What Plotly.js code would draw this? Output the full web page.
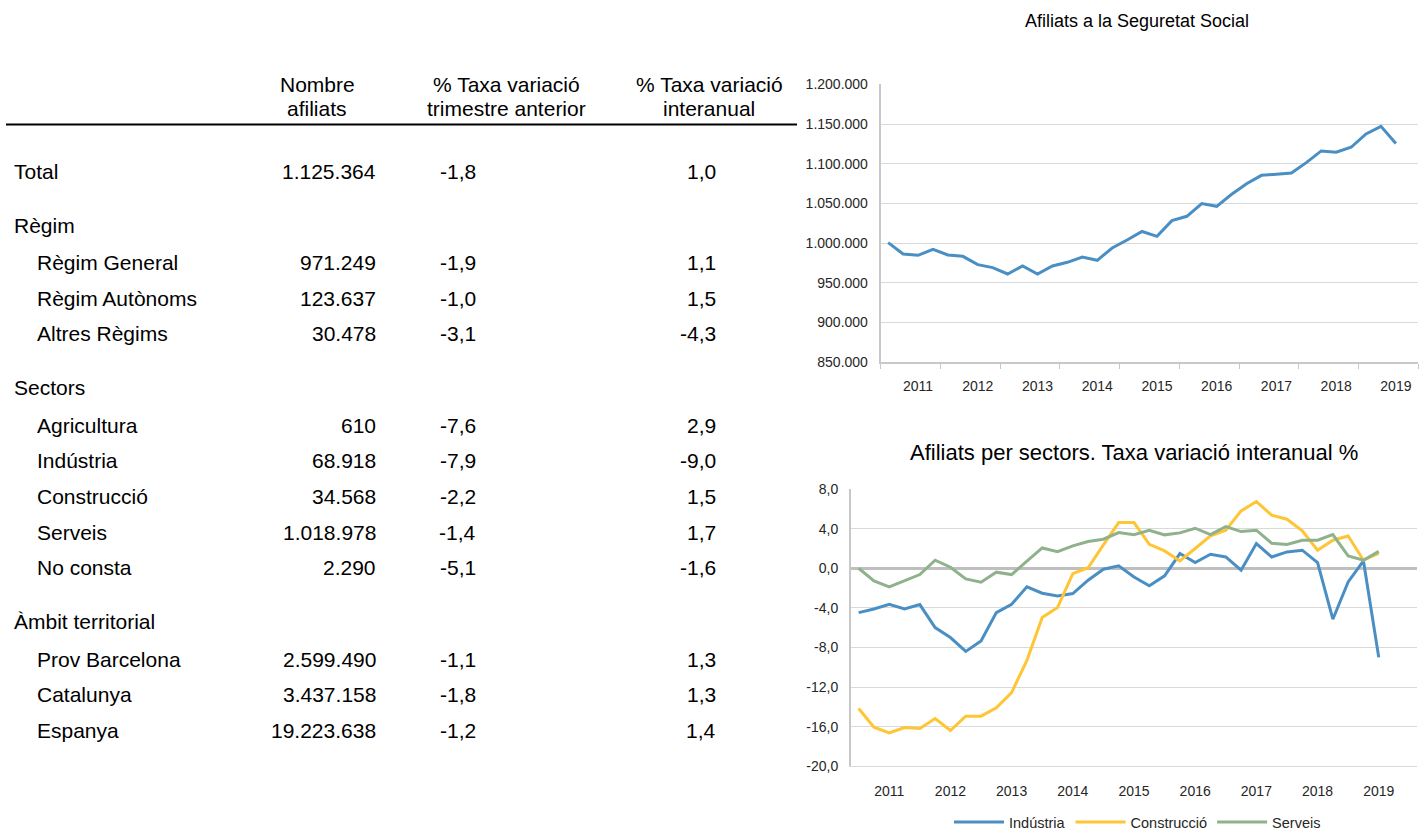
<!DOCTYPE html>
<html>
<head>
<meta charset="utf-8">
<script src="https://cdn.plot.ly/plotly-3.0.1.min.js"></script>
<style>
html,body{margin:0;padding:0;background:#ffffff;}
#chart{width:1422px;height:830px;}
</style>
</head>
<body>
<div id="chart"></div>
<script>
// ---------------- DATA ----------------
const quarters = [
  '2010T3','2010T4',
  '2011T1','2011T2','2011T3','2011T4',
  '2012T1','2012T2','2012T3','2012T4',
  '2013T1','2013T2','2013T3','2013T4',
  '2014T1','2014T2','2014T3','2014T4',
  '2015T1','2015T2','2015T3','2015T4',
  '2016T1','2016T2','2016T3','2016T4',
  '2017T1','2017T2','2017T3','2017T4',
  '2018T1','2018T2','2018T3','2018T4',
  '2019T1'
];

const afiliats = [
  1000700, 986400, 984700, 992300, 985100, 983400, 973000, 969200, 961200, 971300,
  961200, 971300, 975900, 982600, 978400, 993900, 1004000, 1014700, 1008600, 1028400,
  1033800, 1049800, 1046400, 1061500, 1074900, 1085400, 1086700, 1088400, 1101400, 1116100,
  1114400, 1120700, 1137500, 1147100, 1125364
];

const industria = [
  -4.48, -4.11, -3.64, -4.11, -3.67, -5.99, -7.00, -8.40, -7.34, -4.48,
  -3.64, -1.88, -2.52, -2.79, -2.56, -1.21, -0.10, 0.24, -0.88, -1.78,
  -0.77, 1.48, 0.57, 1.41, 1.14, -0.20, 2.49, 1.14, 1.65, 1.82,
  0.57, -5.15, -1.38, 0.74, -9.0
];

const construccio = [
  -14.17, -16.06, -16.63, -16.09, -16.19, -15.18, -16.39, -14.94, -14.94, -14.10,
  -12.55, -9.30, -4.98, -3.97, -0.54, 0.05, 2.36, 4.61, 4.61, 2.42,
  1.75, 0.74, 1.99, 3.26, 3.84, 5.79, 6.73, 5.35, 4.95, 3.77,
  1.82, 2.83, 3.26, 0.81, 1.5
];

const serveis = [
  0.0, -1.28, -1.88, -1.25, -0.64, 0.81, 0.10, -1.08, -1.41, -0.40,
  -0.64, 0.71, 2.05, 1.68, 2.26, 2.69, 2.93, 3.60, 3.38, 3.84,
  3.37, 3.57, 4.04, 3.40, 4.21, 3.70, 3.84, 2.52, 2.39, 2.83,
  2.83, 3.40, 1.25, 0.81, 1.7
];

const seriesNames = ['Indústria', 'Construcció', 'Serveis'];

const afiliatsTicks = [850000, 900000, 950000, 1000000, 1050000, 1100000, 1150000, 1200000];
const taxaTicks = [-20, -16, -12, -8, -4, 0, 4, 8];

// Table
const headerCol1 = ['Nombre', 'afiliats'];
const headerCol2 = ['% Taxa variació', 'trimestre anterior'];
const headerCol3 = ['% Taxa variació', 'interanual'];

const rowLabels = ['Total', 'Règim', 'Règim General', 'Règim Autònoms', 'Altres Règims',
  'Sectors', 'Agricultura', 'Indústria', 'Construcció', 'Serveis', 'No consta',
  'Àmbit territorial', 'Prov Barcelona', 'Catalunya', 'Espanya'];
const nombreAfiliats = [1125364, null, 971249, 123637, 30478,
  null, 610, 68918, 34568, 1018978, 2290,
  null, 2599490, 3437158, 19223638];
const taxaTrimestre = [-1.8, null, -1.9, -1.0, -3.1,
  null, -7.6, -7.9, -2.2, -1.4, -5.1,
  null, -1.1, -1.8, -1.2];
const taxaInteranual = [1.0, null, 1.1, 1.5, -4.3,
  null, 2.9, -9.0, 1.5, 1.7, -1.6,
  null, 1.3, 1.3, 1.4];

// ---------------- HELPERS ----------------
const W = 1422, H = 830;
const FONT = 'Liberation Sans, Arial, sans-serif';
const px = v => v / W;
const py = v => 1 - v / H;
const fmtInt = n => String(n).replace(/\B(?=(\d{3})+(?!\d))/g, '.');
const fmtDec = n => n.toFixed(1).replace('.', ',');

const xIdx = quarters.map((q, i) => i);
const yearTickVals = [], yearTickText = [];
quarters.forEach((q, i) => { if (q.endsWith('T1')) { yearTickVals.push(i); yearTickText.push(q.slice(0, 4)); } });
const yearBounds = [];
for (let b = -0.5; b <= 35.5; b += 4) yearBounds.push(b);

// ---------------- TRACES ----------------
const BLUE = '#4a8fc4', YELLOW = '#fec534', GREEN = '#8fb28c';
const traces = [
  { x: xIdx, y: afiliats, type: 'scatter', mode: 'lines', xaxis: 'x', yaxis: 'y',
    line: { color: BLUE, width: 3 }, showlegend: false, hoverinfo: 'skip' },
  { x: xIdx, y: industria, type: 'scatter', mode: 'lines', xaxis: 'x2', yaxis: 'y2',
    name: seriesNames[0], line: { color: BLUE, width: 3 } },
  { x: xIdx, y: construccio, type: 'scatter', mode: 'lines', xaxis: 'x2', yaxis: 'y2',
    name: seriesNames[1], line: { color: YELLOW, width: 3 } },
  { x: xIdx, y: serveis, type: 'scatter', mode: 'lines', xaxis: 'x2', yaxis: 'y2',
    name: seriesNames[2], line: { color: GREEN, width: 3 } }
];

// ---------------- TABLE ANNOTATIONS ----------------
const annotations = [];
const TFS = 21;
function addText(text, x, y, xanchor, size) {
  annotations.push({ text: text, x: px(x), y: py(y), xref: 'paper', yref: 'paper',
    xanchor: xanchor, yanchor: 'middle', showarrow: false,
    font: { family: FONT, size: size || TFS, color: '#000000' } });
}
[[headerCol1, 317], [headerCol2, 507], [headerCol3, 709]].forEach(([lines, cx]) => {
  addText(lines[0], cx, 84, 'center');
  addText(lines[1], cx, 108, 'center');
});
let ry = 171;
rowLabels.forEach((lab, i) => {
  if (i > 0) {
    if (nombreAfiliats[i] === null) ry += 54;
    else if (nombreAfiliats[i - 1] === null) ry += 37.5;
    else ry += 35.6;
  }
  const isHeader = nombreAfiliats[i] === null;
  addText(lab, (isHeader || i === 0) ? 12 : 35, ry, 'left');
  if (!isHeader) {
    addText(fmtInt(nombreAfiliats[i]), 378, ry, 'right');
    addText(fmtDec(taxaTrimestre[i]), 478, ry, 'right');
    addText(fmtDec(taxaInteranual[i]), 718, ry, 'right');
  }
});

// chart titles
annotations.push({ text: 'Afiliats a la Seguretat Social', x: px(1137), y: py(21),
  xref: 'paper', yref: 'paper', xanchor: 'center', yanchor: 'middle', showarrow: false,
  font: { family: FONT, size: 18, color: '#000000' } });
annotations.push({ text: 'Afiliats per sectors. Taxa variació interanual %', x: px(1134), y: py(452),
  xref: 'paper', yref: 'paper', xanchor: 'center', yanchor: 'middle', showarrow: false,
  font: { family: FONT, size: 22, color: '#000000' } });

// ---------------- LAYOUT ----------------
const TICKFONT = { family: FONT, size: 14, color: '#262626' };
const layout = {
  width: W, height: H,
  margin: { l: 0, r: 0, t: 0, b: 0, autoexpand: false },
  paper_bgcolor: '#ffffff', plot_bgcolor: '#ffffff',
  separators: ',.',
  font: { family: FONT },
  showlegend: true,
  legend: { orientation: 'h', x: px(1137.5), xanchor: 'center', y: py(822), yanchor: 'middle',
    itemwidth: 50,
    font: { family: FONT, size: 14.5, color: '#262626' }, bgcolor: 'rgba(0,0,0,0)' },
  xaxis: {
    domain: [px(880.7), px(1418.3)], anchor: 'y', range: [-0.5, 35.5],
    tickmode: 'array', tickvals: yearTickVals, ticktext: yearTickText, ticks: '',
    ticklabelstandoff: 10,
    tickfont: TICKFONT, showgrid: false, zeroline: false,
    showline: true, linecolor: '#c8c8c8', linewidth: 1.5,
    minor: { tickmode: 'array', tickvals: yearBounds, ticks: 'outside', ticklen: 5,
      tickcolor: '#c8c8c8', tickwidth: 1, showgrid: false },
    fixedrange: true
  },
  yaxis: {
    domain: [py(362.3), py(84.3)], anchor: 'x', range: [850000, 1200000],
    tickmode: 'array', tickvals: afiliatsTicks, tickformat: ',d', ticks: '',
    tickfont: TICKFONT, showgrid: true, gridcolor: '#d9d9d9', gridwidth: 1,
    zeroline: false, showline: true, linecolor: '#c8c8c8', linewidth: 2,
    ticklabelstandoff: 8, fixedrange: true
  },
  xaxis2: {
    domain: [px(851), px(1417)], anchor: 'y2', range: [-0.5, 36.5],
    tickmode: 'array', tickvals: yearTickVals, ticktext: yearTickText, ticks: '',
    ticklabelstandoff: 12,
    tickfont: TICKFONT, showgrid: false, zeroline: false,
    showline: true, linecolor: '#d9d9d9', linewidth: 1, fixedrange: true
  },
  yaxis2: {
    domain: [py(766.3), py(489)], anchor: 'x2', range: [-20, 8],
    tickmode: 'array', tickvals: taxaTicks, ticktext: taxaTicks.map(fmtDec), ticks: '',
    tickfont: TICKFONT, showgrid: true, gridcolor: '#d9d9d9', gridwidth: 1,
    zeroline: true, zerolinecolor: '#bfbfbf', zerolinewidth: 3,
    showline: true, linecolor: '#c8c8c8', linewidth: 2,
    ticklabelstandoff: 8, fixedrange: true
  },
  shapes: [
    { type: 'line', xref: 'paper', yref: 'paper', x0: px(6), x1: px(797), y0: py(124.5), y1: py(124.5),
      line: { color: '#000000', width: 2 } }
  ],
  annotations: annotations
};

Plotly.newPlot('chart', traces, layout, { staticPlot: true, displayModeBar: false });
</script>
</body>
</html>
